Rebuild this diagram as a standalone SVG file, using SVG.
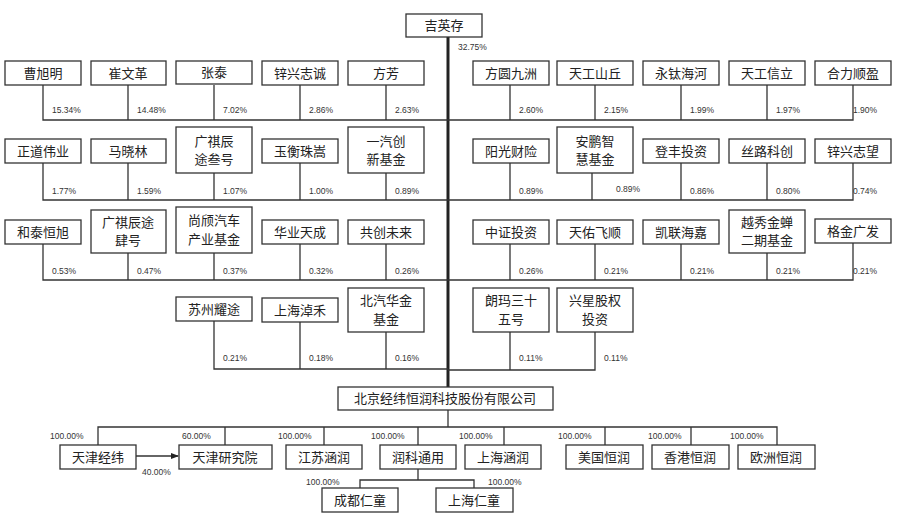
<svg xmlns="http://www.w3.org/2000/svg" width="901" height="521" viewBox="0 0 901 521">
<style>
.b{fill:#fff;stroke:#333;stroke-width:1.3}
.t{font-family:"Noto Sans CJK SC",sans-serif;font-size:13px;fill:#222;text-anchor:middle}
.p{font-family:"Liberation Sans",sans-serif;font-size:8.5px;fill:#333}
.l{stroke:#333;stroke-width:1.3;fill:none}
.k{stroke:#222;stroke-width:3;fill:none}
</style>
<defs><marker id="a" markerWidth="8" markerHeight="8" refX="7" refY="4" orient="auto" markerUnits="userSpaceOnUse"><path d="M0,1L8,4L0,7z" fill="#222"/></marker></defs>
<g id="connectors">
<path class="k" d="M448 37V410"/>
<path class="l" d="M448 410V427"/>
<path class="l" d="M43 85V120H853V85M128 85V120M214 85V120M300 85V120M386 85V120M510 85V120M595 85V120M681 85V120M767 85V120"/>
<path class="l" d="M43 163V200H853V163M128 163V200M214 173V200M300 163V200M386 173V200M510 163V200M592 173V200M681 163V200M767 163V200"/>
<path class="l" d="M43 244V280H853V243M128 253V280M214 253V280M300 244V280M386 244V280M510 244V280M595 244V280M681 244V280M767 253V280"/>
<path class="l" d="M214 321V369H448M300 322V369M386 332V369M448 370H595V332M510 332V370"/>
<path class="l" d="M98 445V427H777V445M225 427V445M324 427V445M418 427V445M504 427V445M605 427V445M691 427V445"/>
<path class="l" d="M418 469V480M360 488V480H474V488"/>
<path class="l" d="M136 456H178" marker-end="url(#a)"/>
</g>
<g id="labels">
<text class="p" x="458" y="50">32.75%</text>
<text class="p" x="52" y="113">15.34%</text><text class="p" x="137" y="113">14.48%</text><text class="p" x="223" y="113">7.02%</text><text class="p" x="309" y="113">2.86%</text><text class="p" x="395" y="113">2.63%</text>
<text class="p" x="519" y="113">2.60%</text><text class="p" x="604" y="113">2.15%</text><text class="p" x="690" y="113">1.99%</text><text class="p" x="776" y="113">1.97%</text><text class="p" x="853" y="113">1.90%</text>
<text class="p" x="52" y="194">1.77%</text><text class="p" x="137" y="194">1.59%</text><text class="p" x="223" y="194">1.07%</text><text class="p" x="309" y="194">1.00%</text><text class="p" x="395" y="194">0.89%</text>
<text class="p" x="519" y="194">0.89%</text><text class="p" x="616" y="192">0.89%</text><text class="p" x="690" y="194">0.86%</text><text class="p" x="776" y="194">0.80%</text><text class="p" x="853" y="194">0.74%</text>
<text class="p" x="52" y="274">0.53%</text><text class="p" x="137" y="274">0.47%</text><text class="p" x="223" y="274">0.37%</text><text class="p" x="309" y="274">0.32%</text><text class="p" x="395" y="274">0.26%</text>
<text class="p" x="519" y="274">0.26%</text><text class="p" x="604" y="274">0.21%</text><text class="p" x="690" y="274">0.21%</text><text class="p" x="776" y="274">0.21%</text><text class="p" x="853" y="274">0.21%</text>
<text class="p" x="223" y="361">0.21%</text><text class="p" x="309" y="361">0.18%</text><text class="p" x="395" y="361">0.16%</text><text class="p" x="519" y="361">0.11%</text><text class="p" x="604" y="361">0.11%</text>
<text class="p" x="50" y="439">100.00%</text><text class="p" x="182" y="439">60.00%</text><text class="p" x="278" y="439">100.00%</text><text class="p" x="371" y="439">100.00%</text><text class="p" x="459" y="439">100.00%</text><text class="p" x="558" y="439">100.00%</text><text class="p" x="648" y="439">100.00%</text><text class="p" x="730" y="439">100.00%</text>
<text class="p" x="142" y="475">40.00%</text><text class="p" x="306" y="485">100.00%</text><text class="p" x="488" y="485">100.00%</text>
</g>
<g id="n-top"><rect class="b" x="406" y="14" width="76" height="23"/><text class="t" x="444" y="30">吉英存</text></g>
<g id="r1">
<g id="n1"><rect class="b" x="5" y="61" width="76" height="24"/><text class="t" x="43" y="78">曹旭明</text></g>
<g id="n2"><rect class="b" x="91" y="61" width="75" height="24"/><text class="t" x="128" y="78">崔文革</text></g>
<g id="n3"><rect class="b" x="176" y="61" width="76" height="23"/><text class="t" x="214" y="77">张泰</text></g>
<g id="n4"><rect class="b" x="262" y="61" width="76" height="24"/><text class="t" x="300" y="78">锌兴志诚</text></g>
<g id="n5"><rect class="b" x="348" y="61" width="76" height="24"/><text class="t" x="386" y="78">方芳</text></g>
<g id="n6"><rect class="b" x="473" y="61" width="76" height="24"/><text class="t" x="511" y="78">方圆九洲</text></g>
<g id="n7"><rect class="b" x="557" y="61" width="76" height="24"/><text class="t" x="595" y="78">天工山丘</text></g>
<g id="n8"><rect class="b" x="643" y="61" width="76" height="24"/><text class="t" x="681" y="78">永钛海河</text></g>
<g id="n9"><rect class="b" x="729" y="61" width="76" height="24"/><text class="t" x="767" y="78">天工信立</text></g>
<g id="n10"><rect class="b" x="815" y="61" width="76" height="24"/><text class="t" x="853" y="78">合力顺盈</text></g>
</g>
<g id="r2">
<g id="n11"><rect class="b" x="5" y="139" width="76" height="24"/><text class="t" x="43" y="156">正道伟业</text></g>
<g id="n12"><rect class="b" x="91" y="139" width="75" height="24"/><text class="t" x="128" y="156">马晓林</text></g>
<g id="n13"><rect class="b" x="176" y="127" width="76" height="46"/><text class="t" x="214" y="146">广祺辰</text><text class="t" x="214" y="164">途叁号</text></g>
<g id="n14"><rect class="b" x="262" y="139" width="76" height="24"/><text class="t" x="300" y="156">玉衡珠嵩</text></g>
<g id="n15"><rect class="b" x="348" y="127" width="76" height="46"/><text class="t" x="386" y="146">一汽创</text><text class="t" x="386" y="164">新基金</text></g>
<g id="n16"><rect class="b" x="473" y="139" width="76" height="24"/><text class="t" x="511" y="156">阳光财险</text></g>
<g id="n17"><rect class="b" x="557" y="127" width="76" height="46"/><text class="t" x="595" y="146">安鹏智</text><text class="t" x="595" y="164">慧基金</text></g>
<g id="n18"><rect class="b" x="643" y="139" width="76" height="24"/><text class="t" x="681" y="156">登丰投资</text></g>
<g id="n19"><rect class="b" x="729" y="139" width="76" height="24"/><text class="t" x="767" y="156">丝路科创</text></g>
<g id="n20"><rect class="b" x="815" y="139" width="76" height="24"/><text class="t" x="853" y="156">锌兴志望</text></g>
</g>
<g id="r3">
<g id="n21"><rect class="b" x="5" y="220" width="76" height="24"/><text class="t" x="43" y="237">和泰恒旭</text></g>
<g id="n22"><rect class="b" x="91" y="210" width="75" height="43"/><text class="t" x="128" y="227">广祺辰途</text><text class="t" x="128" y="245">肆号</text></g>
<g id="n23"><rect class="b" x="176" y="207" width="76" height="46"/><text class="t" x="214" y="225">尚颀汽车</text><text class="t" x="214" y="244">产业基金</text></g>
<g id="n24"><rect class="b" x="262" y="220" width="76" height="24"/><text class="t" x="300" y="237">华业天成</text></g>
<g id="n25"><rect class="b" x="348" y="220" width="76" height="24"/><text class="t" x="386" y="237">共创未来</text></g>
<g id="n26"><rect class="b" x="473" y="220" width="76" height="24"/><text class="t" x="511" y="237">中证投资</text></g>
<g id="n27"><rect class="b" x="557" y="220" width="76" height="24"/><text class="t" x="595" y="237">天佑飞顺</text></g>
<g id="n28"><rect class="b" x="643" y="220" width="76" height="24"/><text class="t" x="681" y="237">凯联海嘉</text></g>
<g id="n29"><rect class="b" x="729" y="210" width="76" height="43"/><text class="t" x="767" y="227">越秀金蝉</text><text class="t" x="767" y="245">二期基金</text></g>
<g id="n30"><rect class="b" x="815" y="219" width="76" height="24"/><text class="t" x="853" y="236">格金广发</text></g>
</g>
<g id="r4">
<g id="n31"><rect class="b" x="176" y="297" width="76" height="24"/><text class="t" x="214" y="314">苏州耀途</text></g>
<g id="n32"><rect class="b" x="262" y="298" width="76" height="24"/><text class="t" x="300" y="315">上海淖禾</text></g>
<g id="n33"><rect class="b" x="348" y="288" width="76" height="44"/><text class="t" x="386" y="305">北汽华金</text><text class="t" x="386" y="324">基金</text></g>
<g id="n34"><rect class="b" x="473" y="288" width="76" height="44"/><text class="t" x="511" y="305">朗玛三十</text><text class="t" x="511" y="324">五号</text></g>
<g id="n35"><rect class="b" x="557" y="288" width="76" height="44"/><text class="t" x="595" y="305">兴星股权</text><text class="t" x="595" y="324">投资</text></g>
</g>
<g id="n-company"><rect class="b" x="338" y="387" width="215" height="23"/><text class="t" x="445" y="403">北京经纬恒润科技股份有限公司</text></g>
<g id="subs">
<g id="s1"><rect class="b" x="60" y="445" width="76" height="24"/><text class="t" x="98" y="462">天津经纬</text></g>
<g id="s2"><rect class="b" x="179" y="445" width="93" height="24"/><text class="t" x="225" y="462">天津研究院</text></g>
<g id="s3"><rect class="b" x="286" y="445" width="76" height="24"/><text class="t" x="324" y="462">江苏涵润</text></g>
<g id="s4"><rect class="b" x="380" y="445" width="76" height="24"/><text class="t" x="418" y="462">润科通用</text></g>
<g id="s5"><rect class="b" x="465" y="445" width="76" height="24"/><text class="t" x="503" y="462">上海涵润</text></g>
<g id="s6"><rect class="b" x="566" y="445" width="77" height="24"/><text class="t" x="604" y="462">美国恒润</text></g>
<g id="s7"><rect class="b" x="652" y="445" width="77" height="24"/><text class="t" x="690" y="462">香港恒润</text></g>
<g id="s8"><rect class="b" x="738" y="445" width="77" height="24"/><text class="t" x="776" y="462">欧洲恒润</text></g>
<g id="s9"><rect class="b" x="322" y="488" width="76" height="24"/><text class="t" x="360" y="505">成都仁童</text></g>
<g id="s10"><rect class="b" x="436" y="488" width="77" height="24"/><text class="t" x="474" y="505">上海仁童</text></g>
</g>
</svg>
